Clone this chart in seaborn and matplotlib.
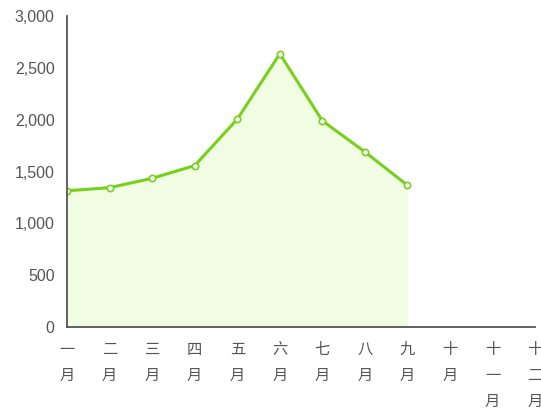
import numpy as np
import pandas as pd
import matplotlib
matplotlib.use("Agg")
import matplotlib.pyplot as plt
import seaborn as sns
from matplotlib.ticker import FuncFormatter

months = ["一\n月", "二\n月", "三\n月", "四\n月", "五\n月", "六\n月",
          "七\n月", "八\n月", "九\n月", "十\n月", "十\n一\n月", "十\n二\n月"]
values = [1315, 1345, 1435, 1558, 2005, 2635, 1990, 1690, 1368]

sns.set_theme(style="white")
plt.rcParams['font.family'] = ['Liberation Sans', 'Noto Sans CJK SC', 'DejaVu Sans']

df = pd.DataFrame({"x": np.arange(len(values)), "v": values})

fig = plt.figure(figsize=(5.41, 4.09), dpi=100)
ax = fig.add_axes([0.124, 0.200, 0.865, 0.761])

line_c = "#76d01c"
ax.fill_between(df["x"], df["v"], 0, color="#f0fde2", lw=0)
sns.lineplot(data=df, x="x", y="v", ax=ax, color=line_c, lw=2.2,
             marker="o", markersize=4.5, markerfacecolor="white",
             markeredgecolor=line_c, markeredgewidth=1.2)

ax.set_xlim(0, len(months) - 1)
ax.set_ylim(0, 3000)
ax.set_xticks(range(len(months)))
ax.set_xticklabels(months, va="top", linespacing=1.68,
                   family=['Noto Sans CJK SC', 'DejaVu Sans'], fontsize=11)
ax.set_yticks(range(0, 3001, 500))
ax.yaxis.set_major_formatter(FuncFormatter(lambda v, p: f"{int(v):,}"))
ax.set_xlabel("")
ax.set_ylabel("")

for s in ["top", "right"]:
    ax.spines[s].set_visible(False)
for s in ["left", "bottom"]:
    ax.spines[s].set_color("#555555")
    ax.spines[s].set_linewidth(1.3)
ax.tick_params(axis="both", direction="out", length=6, width=1.3,
               color="#555555", labelcolor="#555555")
ax.tick_params(axis="y", labelsize=11.5, pad=3)
ax.tick_params(axis="x", length=5, pad=5)

fig.savefig("out.png", dpi=100)
